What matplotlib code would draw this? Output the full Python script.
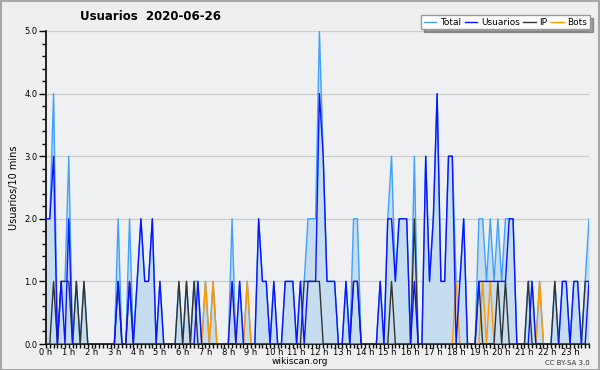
import matplotlib
matplotlib.use('Agg')
import matplotlib.pyplot as plt
from matplotlib.patches import Rectangle
from matplotlib.ticker import MultipleLocator

# one value per 10 minutes, 144 slots for the day
total = [2, 2, 4, 0, 1, 1, 3, 0, 1, 0, 1, 0,
         0, 0, 0, 0, 0, 0, 0, 2, 0, 0, 2, 0,
         1, 2, 1, 1, 2, 0, 1, 0, 0, 0, 0, 1,
         0, 1, 0, 1, 1, 0, 1, 0, 1, 0, 0, 0,
         0, 2, 0, 1, 0, 1, 0, 0, 2, 1, 1, 0,
         1, 0, 0, 1, 1, 1, 0, 1, 1, 2, 2, 2,
         5, 3, 1, 1, 1, 0, 0, 1, 0, 2, 2, 0,
         0, 0, 0, 0, 1, 0, 2, 3, 1, 2, 2, 2,
         0, 3, 0, 0, 3, 1, 2, 4, 1, 1, 3, 3,
         1, 1, 2, 0, 0, 0, 2, 2, 1, 2, 1, 2,
         1, 2, 2, 2, 0, 0, 0, 1, 1, 0, 1, 0,
         0, 0, 1, 0, 1, 1, 0, 1, 1, 0, 1, 2]

usuarios = [2, 2, 3, 0, 1, 0, 2, 0, 0, 0, 0, 0,
            0, 0, 0, 0, 0, 0, 0, 1, 0, 0, 1, 0,
            1, 2, 1, 1, 2, 0, 1, 0, 0, 0, 0, 0,
            0, 0, 0, 0, 1, 0, 0, 0, 0, 0, 0, 0,
            0, 1, 0, 1, 0, 0, 0, 0, 2, 1, 1, 0,
            1, 0, 0, 1, 1, 1, 0, 1, 0, 1, 1, 1,
            4, 3, 1, 1, 1, 0, 0, 1, 0, 1, 1, 0,
            0, 0, 0, 0, 1, 0, 2, 2, 1, 2, 2, 2,
            0, 1, 0, 0, 3, 1, 2, 4, 1, 1, 3, 3,
            0, 1, 2, 0, 0, 0, 1, 1, 1, 1, 1, 1,
            1, 1, 2, 2, 0, 0, 0, 0, 1, 0, 0, 0,
            0, 0, 0, 0, 1, 1, 0, 1, 1, 0, 0, 1]

ip = [0, 0, 1, 0, 1, 1, 1, 0, 1, 0, 1, 0,
      0, 0, 0, 0, 0, 0, 0, 1, 0, 0, 1, 0,
      0, 0, 0, 0, 0, 0, 0, 0, 0, 0, 0, 1,
      0, 1, 0, 1, 0, 0, 0, 0, 0, 0, 0, 0,
      0, 0, 0, 0, 0, 0, 0, 0, 0, 0, 0, 0,
      0, 0, 0, 0, 0, 0, 0, 0, 1, 1, 1, 1,
      1, 0, 0, 0, 0, 0, 0, 0, 0, 1, 1, 0,
      0, 0, 0, 0, 0, 0, 0, 1, 0, 0, 0, 0,
      0, 2, 0, 0, 0, 0, 0, 0, 0, 0, 0, 0,
      0, 0, 0, 0, 0, 0, 1, 0, 0, 0, 0, 1,
      0, 1, 0, 0, 0, 0, 0, 1, 0, 0, 0, 0,
      0, 0, 1, 0, 0, 0, 0, 0, 0, 0, 1, 1]

bots = [0, 0, 0, 0, 0, 0, 0, 0, 0, 0, 0, 0,
        0, 0, 0, 0, 0, 0, 0, 0, 0, 0, 0, 0,
        0, 0, 0, 0, 0, 0, 0, 0, 0, 0, 0, 0,
        0, 0, 0, 0, 0, 0, 1, 0, 1, 0, 0, 0,
        0, 1, 0, 0, 0, 1, 0, 0, 0, 0, 0, 0,
        0, 0, 0, 0, 0, 0, 0, 0, 0, 0, 0, 0,
        0, 0, 0, 0, 0, 0, 0, 0, 0, 0, 0, 0,
        0, 0, 0, 0, 0, 0, 0, 0, 0, 0, 0, 0,
        0, 0, 0, 0, 0, 0, 0, 0, 0, 0, 0, 0,
        1, 0, 0, 0, 0, 0, 0, 1, 0, 1, 0, 0,
        0, 0, 0, 0, 0, 0, 0, 0, 0, 0, 1, 0,
        0, 0, 0, 0, 0, 0, 0, 0, 0, 0, 0, 0]

hour_labels = ['%d h' % h for h in range(24)]

BG = '#efefef'

fig = plt.figure(figsize=(6, 3.7), dpi=100, facecolor=BG)
fig.patches.append(Rectangle((0.001, 0.001), 0.997, 0.996, transform=fig.transFigure,
                             fill=False, edgecolor='#a8a8a8', linewidth=1.5))

ax = fig.add_axes([46 / 600, 1 - 344 / 370, 543 / 600, 313 / 370])
ax.set_facecolor('#eef0f2')

x = list(range(len(total)))
ax.fill_between(x, total, 0, color='#c6ddf0', linewidth=0, zorder=1)
ax.plot(x, total, color='#3fa0ff', lw=1.0, label='Total', zorder=3)
ax.plot(x, bots, color='#ff9900', lw=1.0, label='Bots', zorder=4)
ax.plot(x, ip, color='#333333', lw=1.0, label='IP', zorder=5)
ax.plot(x, usuarios, color='#0a14ff', lw=1.0, label='Usuarios', zorder=6)

ax.set_xlim(0, 143)
ax.set_ylim(0, 5)
ax.yaxis.set_major_locator(MultipleLocator(1))
ax.yaxis.set_minor_locator(MultipleLocator(0.2))
ax.set_yticklabels(['%.1f' % v for v in ax.get_yticks()])
ax.set_xticks(range(0, 144, 6))
ax.set_xticklabels(hour_labels)
ax.xaxis.set_minor_locator(MultipleLocator(1))
ax.tick_params(axis='both', which='major', labelsize=6, length=5, width=1, pad=1)
ax.tick_params(axis='both', which='minor', length=3, width=1)
ax.tick_params(axis='x', which='major', length=3, pad=0)

ax.grid(axis='y', color='#cccccc', lw=0.9)
ax.set_axisbelow(True)
for s in ['top', 'right']:
    ax.spines[s].set_visible(False)
ax.spines['left'].set_linewidth(1.2)
ax.spines['bottom'].set_linewidth(1.2)

ax.set_ylabel('Usuarios/10 mins', fontsize=7, labelpad=4)

fig.text(151 / 600, 1 - 16 / 370, 'Usuarios  2020-06-26', fontsize=8.5, fontweight='bold',
         ha='center', va='center')

handles, labels = ax.get_legend_handles_labels()
order = [0, 3, 2, 1]
leg = fig.legend([handles[i] for i in order], [labels[i] for i in order],
                 loc='upper right', bbox_to_anchor=(590 / 600, 1 - 15 / 370), ncol=4,
                 fontsize=6.5, frameon=True, fancybox=False, shadow=True,
                 handlelength=1.4, handletextpad=0.4, columnspacing=0.4,
                 borderpad=0.3, borderaxespad=0)
leg.get_frame().set_edgecolor('#999999')
leg.get_frame().set_facecolor('white')

fig.text(300 / 600, 1 - 362 / 370, 'wikiscan.org', fontsize=6.5, ha='center', va='center')
fig.text(590 / 600, 1 - 363 / 370, 'CC BY-SA 3.0', fontsize=5, ha='right', va='center',
         color='#333333')

fig.savefig('out.png', dpi=100, facecolor=BG)
